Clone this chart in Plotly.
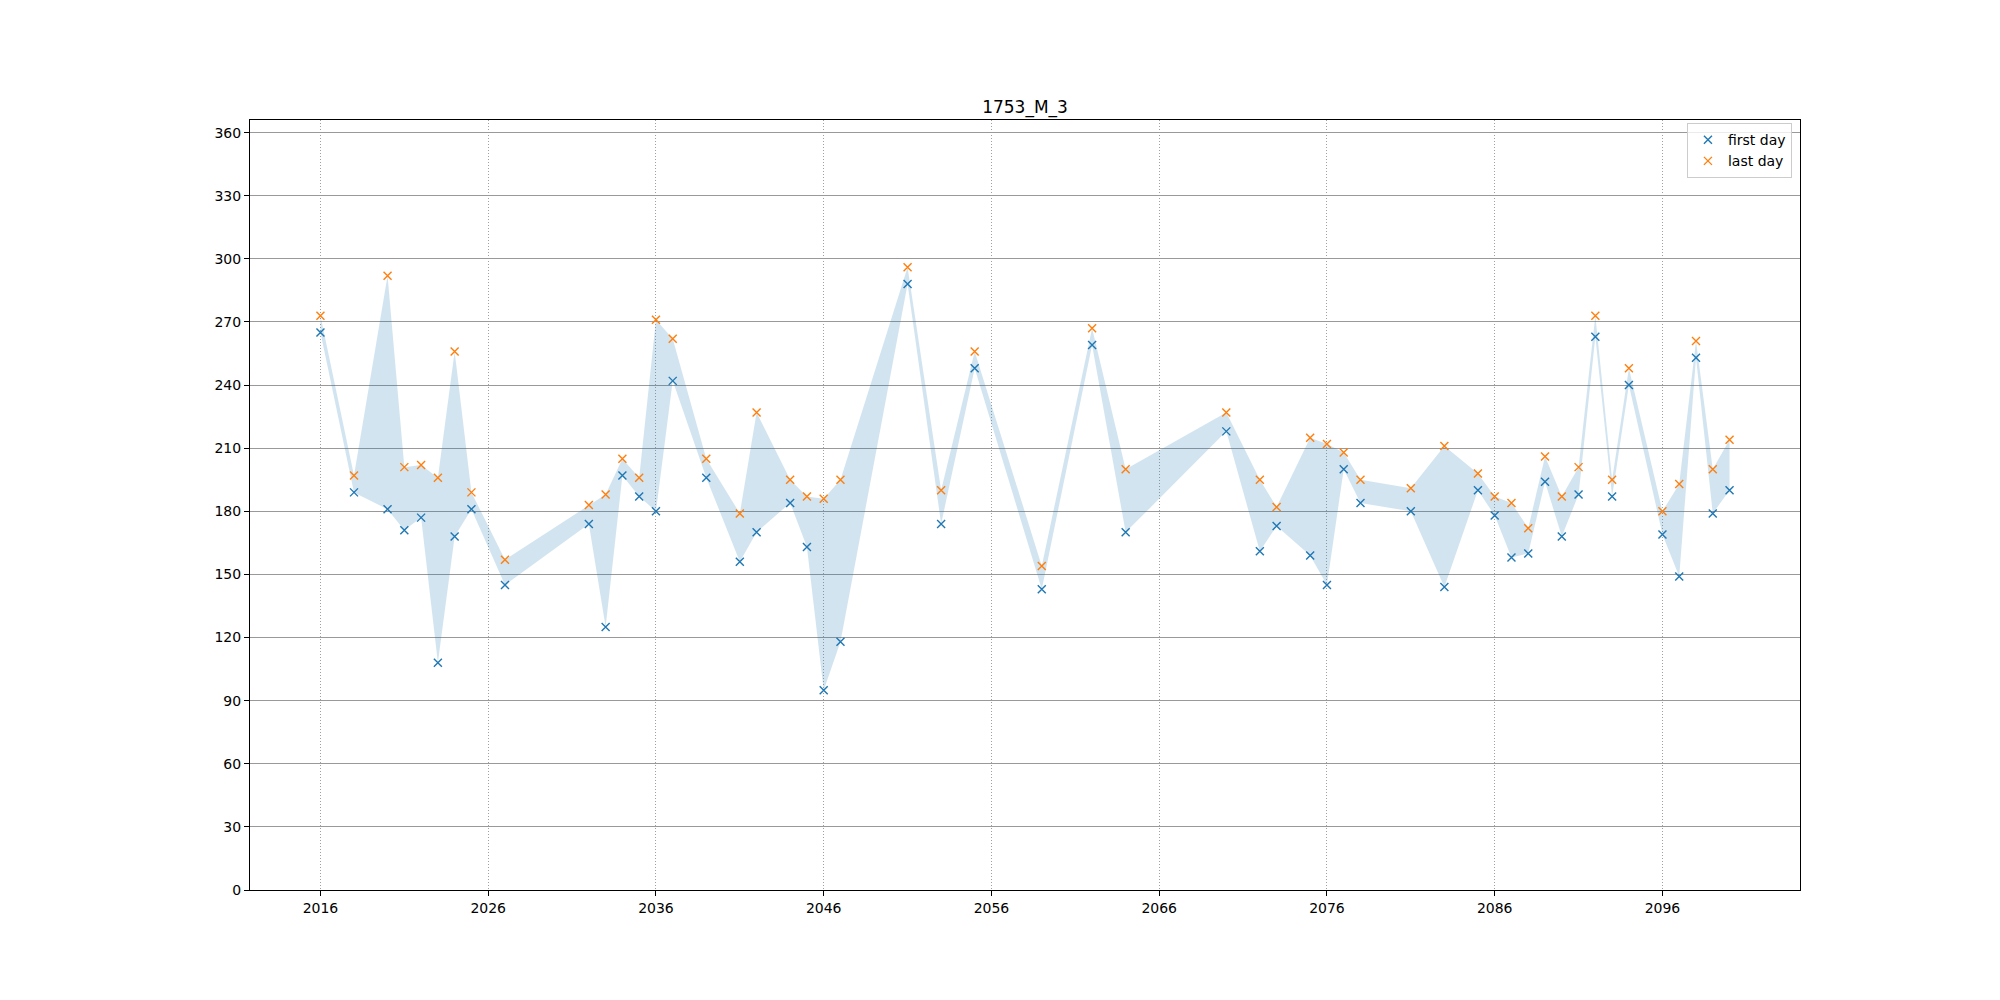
import plotly.graph_objects as go

title = "1753_M_3"
years = [2016, 2018, 2020, 2021, 2022, 2023, 2024, 2025, 2027,
         2032, 2033, 2034, 2035, 2036, 2037, 2039, 2041, 2042, 2044, 2045,
         2046, 2047, 2051, 2053, 2055, 2059,
         2062, 2064, 2070, 2072, 2073, 2075, 2076,
         2077, 2078, 2081, 2083, 2085, 2086, 2087, 2088, 2089, 2090, 2091, 2092,
         2093, 2094, 2096, 2097, 2098, 2099, 2100]
first_day = [265, 189, 181, 171, 177, 108, 168, 181, 145,
             174, 125, 197, 187, 180, 242, 196, 156, 170, 184, 163,
             95, 118, 288, 174, 248, 143,
             259, 170, 218, 161, 173, 159, 145,
             200, 184, 180, 144, 190, 178, 158, 160, 194, 168, 188, 263,
             187, 240, 169, 149, 253, 179, 190]
last_day = [273, 197, 292, 201, 202, 196, 256, 189, 157,
            183, 188, 205, 196, 271, 262, 205, 179, 227, 195, 187,
            186, 195, 296, 190, 256, 154,
            267, 200, 227, 195, 182, 215, 212,
            208, 195, 191, 211, 198, 187, 184, 172, 206, 187, 201, 273,
            195, 248, 180, 193, 261, 200, 214]
y_ticks = list(range(0, 361, 30))
x_ticks = list(range(2016, 2100, 10))

C0 = "#1f77b4"
C1 = "#ff7f0e"
FONT = "DejaVu Sans"

fig = go.Figure()
# fill between first and last day
fig.add_trace(go.Scatter(x=years, y=first_day, mode="lines", line=dict(width=0, color=C0),
                         showlegend=False, hoverinfo="skip"))
fig.add_trace(go.Scatter(x=years, y=last_day, mode="lines", line=dict(width=0, color=C0),
                         fill="tonexty", fillcolor="rgba(31,119,180,0.2)",
                         showlegend=False, hoverinfo="skip"))
# markers
fig.add_trace(go.Scatter(x=years, y=first_day, mode="markers", name="first day",
                         marker=dict(symbol="x-thin", size=8, color=C0,
                                     line=dict(width=1.4, color=C0))))
fig.add_trace(go.Scatter(x=years, y=last_day, mode="markers", name="last day",
                         marker=dict(symbol="x-thin", size=8, color=C1,
                                     line=dict(width=1.4, color=C1))))

fig.update_layout(
    width=2000, height=1000,
    margin=dict(l=242, r=208, t=112, b=118, pad=0),
    paper_bgcolor="white", plot_bgcolor="white",
    font=dict(family=FONT, size=14, color="black"),
    title=dict(text=title, x=0.5, xref="paper", xanchor="center",
               y=1 - 99 / 1000, yref="container", yanchor="middle",
               font=dict(family=FONT, size=17, color="black")),
    showlegend=True,
    legend=dict(x=0.9948, y=0.996, xanchor="right", yanchor="top",
                traceorder="normal", tracegroupgap=0,
                bgcolor="rgba(255,255,255,0.8)", bordercolor="#cccccc", borderwidth=1,
                font=dict(family=FONT, size=14, color="black")),
)
fig.update_xaxes(
    range=[2011.8, 2104.2], tickmode="array", tickvals=x_ticks,
    ticktext=[str(v) for v in x_ticks],
    showgrid=True, gridcolor="#a0a0a0", griddash="1px,2px", gridwidth=1,
    zeroline=False, showline=True, linecolor="black", linewidth=1, mirror=True,
    ticks="outside", ticklen=5, tickwidth=1, tickcolor="black",
    tickfont=dict(family=FONT, size=14, color="black"),
)
fig.update_yaxes(
    range=[0, 366], tickmode="array", tickvals=y_ticks,
    ticktext=[str(v) for v in y_ticks],
    showgrid=True, gridcolor="#999999", gridwidth=1,
    zeroline=False, showline=True, linecolor="black", linewidth=1, mirror=True,
    ticks="outside", ticklen=5, tickwidth=1, tickcolor="black",
    tickfont=dict(family=FONT, size=14, color="black"),
)

fig.write_html("out.html")
